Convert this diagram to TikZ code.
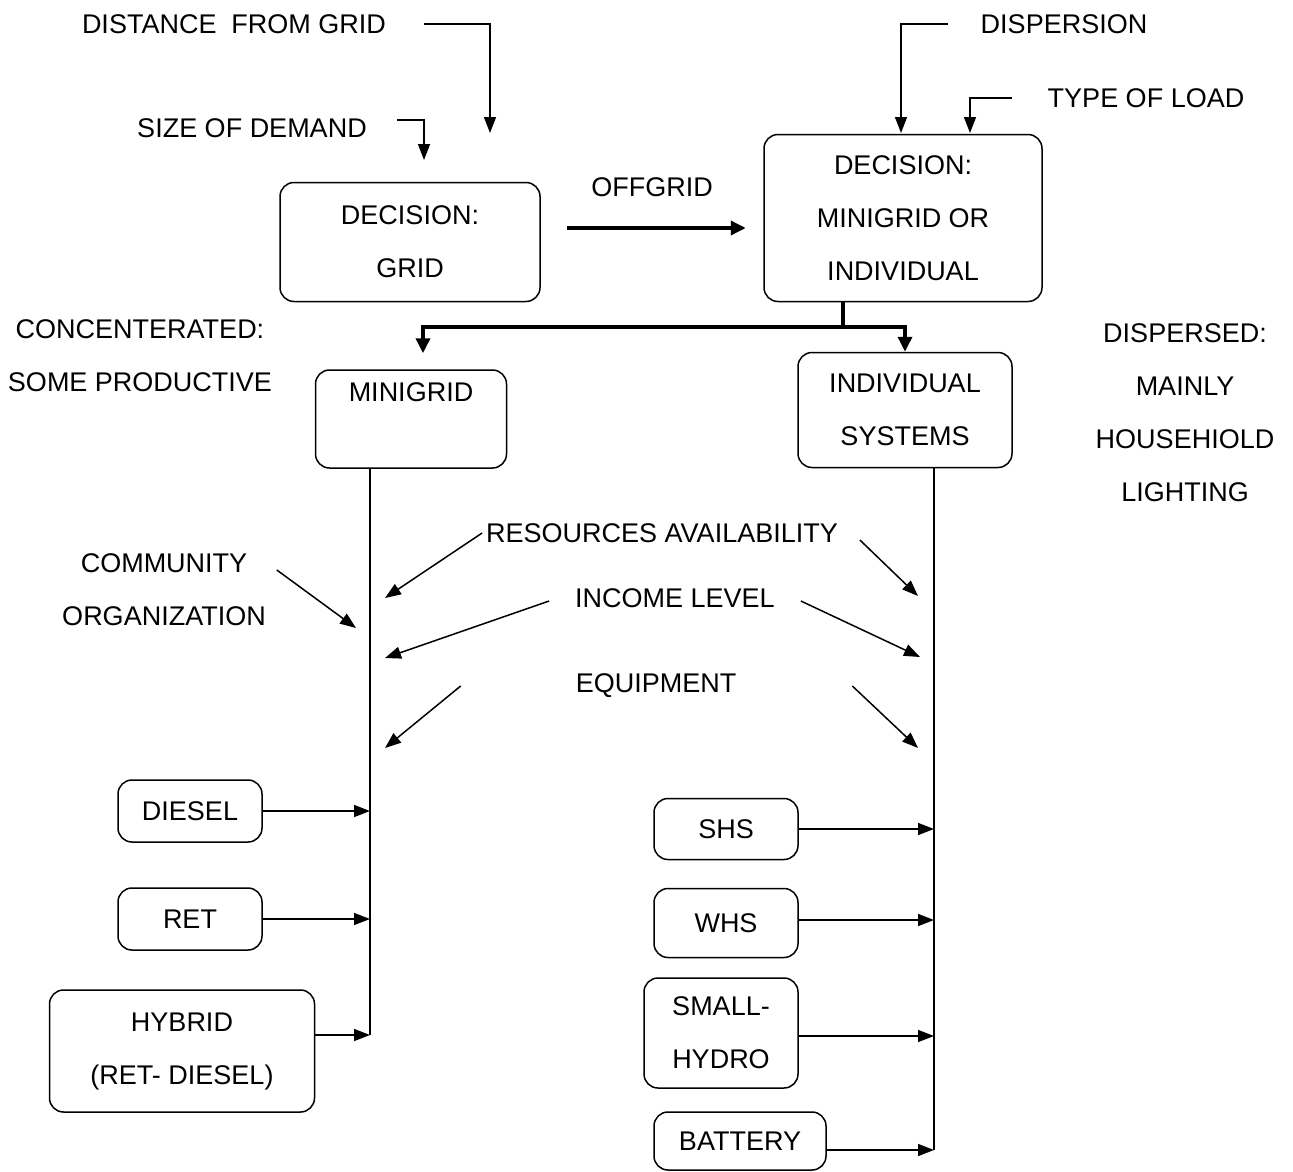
\documentclass[tikz,border=0pt]{standalone}
\usepackage{fontspec}
\setmainfont{Liberation Sans}
\usetikzlibrary{arrows.meta}
\tikzset{
  box/.style={draw,line width=1.5pt,rounded corners=14pt,inner sep=0pt,align=center},
  heavy/.style={line width=3.5pt,-{Triangle[length=15pt,width=14pt]}},
}
\begin{document}
\begin{tikzpicture}[x=1pt,y=-1pt,line width=1.5pt,>={Triangle[length=16pt,width=12pt]},
    font=\fontsize{27}{53}\selectfont,every node/.append style={align=center}]
  \useasboundingbox (0,0) rectangle (1293,1172);
  \node (dist) at (234,24) {DISTANCE\ \ FROM GRID};
  \node (demand) at (252,128) {SIZE OF DEMAND};
  \node (dispersion) at (1064,24) {DISPERSION};
  \node (load) at (1146,98) {TYPE OF LOAD};
  \node[box,minimum width=260pt,minimum height=119pt] (grid) at (410,242) {DECISION:\\GRID};
  \node (offgrid) at (652,187) {OFFGRID};
  \node[box,minimum width=278pt,minimum height=167pt] (choice) at (903,218) {DECISION:\\MINIGRID OR\\INDIVIDUAL};
  \node (conc) at (140,356) {CONCENTERATED:\\SOME PRODUCTIVE};
  \node[box,minimum width=191pt,minimum height=98pt] (mini) at (411,419) {MINIGRID\\\mbox{}};
  \node[box,minimum width=214pt,minimum height=115pt] (indiv) at (905,410) {INDIVIDUAL\\SYSTEMS};
  \node (dispersed) at (1185,413) {DISPERSED:\\MAINLY\\HOUSEHIOLD\\LIGHTING};
  \node (res) at (662,533) {RESOURCES AVAILABILITY};
  \node (income) at (675,598) {INCOME LEVEL};
  \node (equip) at (656,686) {EQUIPMENT};
  \node (comm) at (164,590) {COMMUNITY\\ORGANIZATION};
  \node[box,minimum width=144pt,minimum height=62pt] (diesel) at (190,811) {DIESEL};
  \node[box,minimum width=144pt,minimum height=62pt] (ret) at (190,919) {RET};
  \node[box,minimum width=265pt,minimum height=122pt] (hybrid) at (182,1051) {HYBRID\\(RET- DIESEL)};
  \node[box,minimum width=144pt,minimum height=61pt] (shs) at (726,829) {SHS};
  \node[box,minimum width=144pt,minimum height=69pt] (whs) at (726,923) {WHS};
  \node[box,minimum width=154pt,minimum height=110pt] (hydro) at (721,1033) {SMALL-\\HYDRO};
  \node[box,minimum width=172pt,minimum height=58pt] (battery) at (740,1141) {BATTERY};

  \coordinate (distend) at (490,133);
  \coordinate (demandend) at (424,160);
  \coordinate (dispend) at (901,133);
  \coordinate (loadend) at (970,133);
  \coordinate (split) at (843,327);
  \coordinate (ltop) at (370,468);
  \coordinate (lbot) at (370,1035);
  \coordinate (rtop) at (934,468);
  \coordinate (rbot) at (934,1150);
  \foreach \n/\x/\y in {resl/385/598,resr/918/596,comml/356/628,incl/385/658,
      incr/920/657,eqpl/385/748,eqpr/918/748}
    \coordinate (\n) at (\x,\y);

  \draw[->] ([xshift=34pt]dist.east) -| (distend);
  \draw[->] ([xshift=26pt,yshift=8pt]demand.east) -| (demandend);
  \draw[->] ([xshift=-29pt]dispersion.west) -| (dispend);
  \draw[->] ([xshift=-32pt]load.west) -| (loadend);
  \draw[heavy] ([xshift=26pt,yshift=14pt]grid.east) -- ++(179,0);
  \draw[line width=3.5pt] ([xshift=-60pt]choice.south) -- (split);
  \draw[heavy] (split) -| ([xshift=12pt,yshift=16pt]mini.north);
  \draw[heavy] (split) -| (indiv.north);

  \draw (ltop) -- (lbot);
  \draw (rtop) -- (rbot);
  \draw[->] (res.west) -- (resl);
  \draw[->] ([xshift=18pt,yshift=-7pt]res.east) -- (resr);
  \draw[->] ([xshift=7pt,yshift=20pt]comm.east) -- (comml);
  \draw[->] ([xshift=-22pt,yshift=-3pt]income.west) -- (incl);
  \draw[->] ([xshift=22pt,yshift=-3pt]income.east) -- (incr);
  \draw[->] ([xshift=-111pt]equip.west) -- (eqpl);
  \draw[->] ([xshift=112pt]equip.east) -- (eqpr);

  \draw[->] (diesel.east) -- (diesel.east -| ltop);
  \draw[->] (ret.east) -- (ret.east -| ltop);
  \draw[->] ([yshift=16pt]hybrid.east) -- ([yshift=16pt]hybrid.east -| ltop);
  \draw[->] (shs.east) -- (shs.east -| rtop);
  \draw[->] ([yshift=3pt]whs.east) -- ([yshift=3pt]whs.east -| rtop);
  \draw[->] ([yshift=-3pt]hydro.east) -- ([yshift=-3pt]hydro.east -| rtop);
  \draw[->] ([yshift=-9pt]battery.east) -- ([yshift=-9pt]battery.east -| rtop);
\end{tikzpicture}
\end{document}
